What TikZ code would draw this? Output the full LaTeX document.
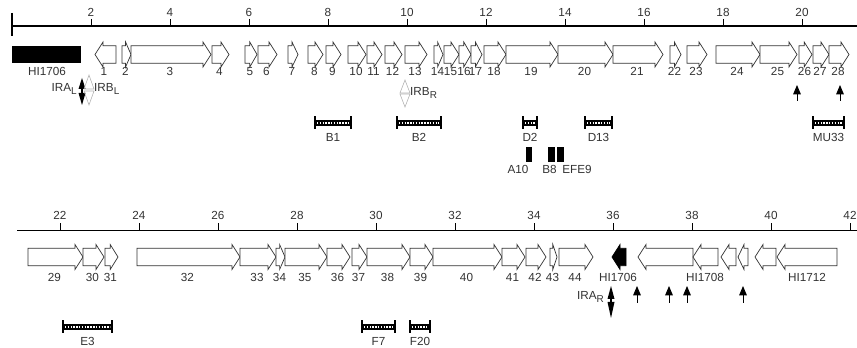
\documentclass[tikz,border=0pt]{standalone}
\usepackage{fontspec}
\setmainfont{Liberation Sans}
\usetikzlibrary{arrows.meta}

\definecolor{inkgray}{HTML}{333333}

\tikzset{
  gene/.style={draw=inkgray, line width=0.6pt, fill=white},
  hitgene/.style={draw=black, line width=0.6pt, fill=black},
  lbl/.style={font=\fontsize{10}{12}\selectfont, text=inkgray, inner sep=0pt},
  insertion/.style={-{Triangle[length=8pt,width=6.5pt]}, line width=0.8pt},
  irgray/.style={draw=gray!60, line width=0.5pt},
}

% gene arrows: x1, x2, y, style
\newcommand{\generight}[4]{%
  \pgfmathsetmacro{\headlen}{min(8,0.6*(#2-#1))}
  \draw[#4] (#1,#3-8.7) -- ({#2-\headlen},#3-8.7) -- ({#2-\headlen},#3-12.5) -- (#2,#3)
    -- ({#2-\headlen},#3+12.5) -- ({#2-\headlen},#3+8.7) -- (#1,#3+8.7) -- cycle;}
\newcommand{\geneleft}[4]{%
  \pgfmathsetmacro{\headlen}{min(8,0.6*(#2-#1))}
  \draw[#4] (#2,#3-8.7) -- ({#1+\headlen},#3-8.7) -- ({#1+\headlen},#3-12.5) -- (#1,#3)
    -- ({#1+\headlen},#3+12.5) -- ({#1+\headlen},#3+8.7) -- (#2,#3+8.7) -- cycle;}
% clone bars: x1, x2, y, label
\newcommand{\clonebar}[4]{%
  \fill (#1,#3-3) rectangle (#2,#3+3);
  \draw[white, line width=0.9pt, dash pattern=on 1.2pt off 1.2pt] (#1+2,#3) -- (#2-2,#3);
  \draw[line width=2.2pt] (#1,#3-6.5) -- (#1,#3+6.5) (#2,#3-6.5) -- (#2,#3+6.5);
  \node[lbl] (#4) at ({(#1+#2)/2},#3+14) {#4};}
% lowered subscript for the repeat names
\newcommand{\lowsub}[1]{\raisebox{-0.45ex}{\fontsize{8.5}{10}\selectfont #1}}

\begin{document}
\begin{tikzpicture}[x=0.03cm, y=-0.03cm]
    \useasboundingbox (0,0) rectangle (857,348);

    % Axes
    \draw[line width=1.7pt] (12,26) -- (857,26);
    \draw[line width=1.5pt] (12,13) -- (12,36);
    \foreach \k in {2,4,...,20} {
        \draw[line width=0.8pt] ({12+39.5*\k},19) -- ({12+39.5*\k},26);
        \node[lbl] (top\k) at ({12+39.5*\k},12.5) {\k};
    }
    \draw[line width=1.7pt] (17,230.5) -- (857,230.5);
    \foreach \k in {22,24,...,42} {
        \draw[line width=0.8pt] ({60+39.5*(\k-22)},223.5) -- ({60+39.5*(\k-22)},230.5);
        \node[lbl] (bot\k) at ({60+39.5*(\k-22)},215.5) {\k};
    }

    % Genes, upper row
    \fill (12,46) rectangle (81,63);
    \node[lbl] (hi1706l) at (47,71.5) {HI1706};
    \geneleft{95}{116}{54.5}{gene}
    \node[lbl] (g1) at (104,71.5) {1};
    \foreach \a/\b/\n in {122/131/2, 131/211/3, 212/229/4, 245/257/5, 258/277/6,
        288/298/7, 308/323/8, 326/341/9, 348/366/10, 367/382/11, 385/402/12,
        405/427/13, 434/443/14, 444/459/15, 459/471/16, 471/482/17, 484/506/18,
        506/558/19, 558/613/20, 613/663/21, 670/681/22, 687/707/23, 716/760/24,
        760/797/25, 799/812/26, 813/829/27, 829/849/28} {
        \generight{\a}{\b}{54.5}{gene}
        \node[lbl] (g\n) at ({(\a+\b)/2-1},71.5) {\n};
    }

    % Genes, lower row
    \foreach \a/\b/\n in {28/83/29, 83/104/30, 105/118/31, 137/240/32, 240/276/33,
        276/285/34, 285/327/35, 327/350/36, 352/367/37, 367/410/38, 410/433/39,
        433/502/40, 502/525/41, 526/546/42, 550/557/43, 559/593/44} {
        \generight{\a}{\b}{257}{gene}
        \node[lbl] (g\n) at ({(\a+\b)/2-1},277) {\n};
    }
    \geneleft{612}{626}{257}{hitgene}
    \node[lbl] (hi1706r) at (618,277) {HI1706};
    \geneleft{638}{693}{257}{gene}
    \geneleft{693}{718}{257}{gene}
    \node[lbl] (hi1708) at (705,277) {HI1708};
    \geneleft{721}{736}{257}{gene}
    \geneleft{738}{748}{257}{gene}
    \geneleft{755}{776}{257}{gene}
    \geneleft{777}{837}{257}{gene}
    \node[lbl] (hi1712) at (807,277) {HI1712};

    % Inverted repeats
    \fill (82,78) -- (78.5,89) -- (85.5,89) -- cycle;
    \fill (78.5,93) -- (85.5,93) -- (82,105) -- cycle;
    \draw[line width=1pt] (82,89) -- (82,93);
    \draw[irgray] (89,75) -- (84,89) -- (94,89) -- cycle;
    \draw[irgray] (84,91) -- (94,91) -- (89,105) -- cycle;
    \node[lbl, anchor=east] (iral) at (77,89) {IRA\lowsub{L}};
    \node[lbl, anchor=west] (irbl) at (94,89) {IRB\lowsub{L}};

    \draw[irgray] (405,80) -- (400,93) -- (410,93) -- cycle;
    \draw[irgray] (400,94) -- (410,94) -- (405,107) -- cycle;
    \node[lbl, anchor=west] (irbr) at (410,93) {IRB\lowsub{R}};

    \fill (611,286) -- (607.5,299) -- (614.5,299) -- cycle;
    \fill (607.5,302) -- (614.5,302) -- (611,318) -- cycle;
    \draw[line width=1pt] (611,299) -- (611,302);
    \node[lbl, anchor=east] (irar) at (604,297) {IRA\lowsub{R}};

    % Insertions
    \foreach \x in {797,840} {
        \draw[insertion] (\x,101) -- (\x,85);
    }
    \foreach \x in {637,669,687,743} {
        \draw[insertion] (\x,303) -- (\x,286);
    }

    % Clones
    \clonebar{315}{351}{123}{B1}
    \clonebar{397}{441}{123}{B2}
    \clonebar{523}{537}{123}{D2}
    \clonebar{585}{612}{123}{D13}
    \clonebar{813}{844}{123}{MU33}
    \clonebar{63}{112}{327}{E3}
    \clonebar{362}{395}{327}{F7}
    \clonebar{410}{430}{327}{F20}

    % Deletions
    \fill (526,147) rectangle (532,162);
    \fill (548,147) rectangle (555,162);
    \fill (557,147) rectangle (564,162);
    \node[lbl] (a10) at (518,169) {A10};
    \node[lbl] (b8) at (549.5,169) {B8};
    \node[lbl] (efe9) at (577,169) {EFE9};
\end{tikzpicture}
\end{document}
